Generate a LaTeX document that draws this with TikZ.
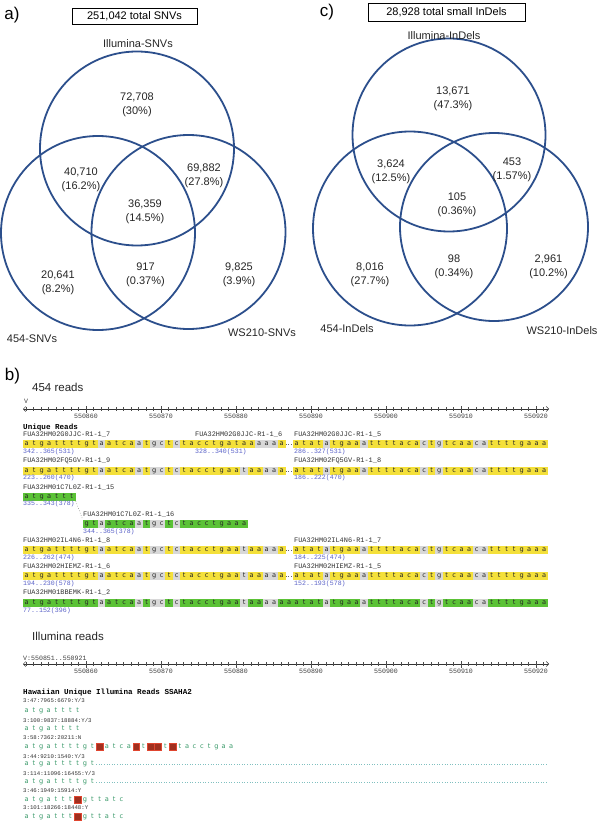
\documentclass[tikz,border=0pt]{standalone}
\usepackage{fontspec}
\setmainfont{Liberation Sans}
\newfontfamily\lmono{Liberation Mono}
\newfontfamily\dvsans{DejaVu Sans}
\usetikzlibrary{arrows.meta}
\definecolor{vblue}{HTML}{2C4F8C}
\definecolor{yel}{HTML}{F4E03A}
\definecolor{grn}{HTML}{5BC236}
\definecolor{gry}{HTML}{D8D8D8}
\definecolor{coordc}{HTML}{5A62C8}
\definecolor{ilet}{HTML}{3A9A6A}
\definecolor{idot}{HTML}{80C0C0}
\definecolor{rfill}{HTML}{A0301F}
\definecolor{redge}{HTML}{E0452F}

\makeatletter
\newcount\sr@i
\def\seqxo{23}\def\seqstep{7.5}
\newcommand\seqrow[5]{% prefix, start index, y, highlight colour, string
  \def\sr@pre{#1}\sr@i=#2\relax\def\sr@y{#3}\def\sr@col{#4}%
  \sr@loop#5\@nil}
\def\sr@loop#1{\ifx#1\@nil\else\sr@cell#1\expandafter\sr@loop\fi}
\def\sr@cell#1{%
  \pgfmathsetmacro\sr@x{\seqxo+(\the\sr@i+0.5)*\seqstep}%
  \edef\sr@name{\sr@pre-\the\sr@i}%
  \ifnum`#1=`R\relax
    \node[redsq] (\sr@name) at (\sr@x,\sr@y) {};%
  \else\ifnum`#1=`-\relax\else
    \ifnum\uccode`#1=`#1\relax\edef\sr@bg{\sr@col}\else\def\sr@bg{gry}\fi
    \lowercase{\def\sr@let{#1}}%
    \node[cell, fill=\sr@bg] (\sr@name) at (\sr@x,\sr@y) {\sr@let};%
  \fi\fi
  \advance\sr@i by 1\relax}
\makeatother

\begin{document}
\begin{tikzpicture}[x=1pt,y=-1pt,
  vc/.style={circle, draw=vblue, line width=1.8pt, inner sep=0},
  vlab/.style={align=center, font=\fontsize{11}{14}\selectfont, inner sep=0, text=black!85},
  setlab/.style={font=\fontsize{11}{13}\selectfont, inner sep=0, text=black!85},
  panel/.style={font=\fontsize{17}{20}\selectfont, inner sep=0},
  tbox/.style={draw, line width=0.9pt, inner sep=0, font=\fontsize{11}{13}\selectfont},
  sublab/.style={anchor=west, font=\fontsize{11.5}{13}\selectfont, inner sep=0, text=black!85},
  rname/.style={anchor=west, inner sep=0, font=\lmono\fontsize{6.9}{7}\selectfont, text=black!80},
  rcoord/.style={anchor=west, inner sep=0, font=\lmono\fontsize{6.6}{7}\selectfont, text=coordc},
  ilab/.style={anchor=west, inner sep=0, font=\lmono\fontsize{5.7}{6}\selectfont, text=black!80},
  hdr/.style={anchor=west, inner sep=0, font=\lmono\bfseries\fontsize{7.6}{8}\selectfont},
  rlab/.style={inner sep=0, font=\lmono\fontsize{6.6}{7}\selectfont, text=black!75},
  rline/.style={line width=0.5pt, black!80, {Straight Barb[length=2.5pt,width=5pt]}-{Straight Barb[length=2.5pt,width=5pt]}},
  tick/.style={line width=0.4pt, black!70},
  redsq/.style={inner sep=0, minimum size=6.5pt, fill=rfill, draw=redge, line width=0.8pt},
  gapline/.style={dotted, black!60, line width=0.5pt},
  idotline/.style={dotted, idot, line width=0.6pt}
]
\useasboundingbox (0,0) rectangle (600,821);
\fill[white] (0,0) rectangle (600,821);

% ---------------- panel a ----------------
\node[panel] (pa) at (12,15.5) {a)};
\node[tbox, minimum width=125pt, minimum height=16pt] (boxa) at (134.5,16.3) {251,042 total SNVs};
\node[vc, minimum size=194pt] (ca1) at (137,148.5) {};
\node[vc, minimum size=194pt] (ca2) at (98,233) {};
\node[vc, minimum size=194pt] (ca3) at (188.5,232) {};
\node[setlab] (la1) at (138,44) {Illumina-SNVs};
\node[setlab] (la2) at (32,339) {454-SNVs};
\node[setlab] (la3) at (262,333) {WS210-SNVs};
\node[vlab] (va1) at (137,105) {72,708\\(30\%)};
\node[vlab] (va2) at (81,180) {40,710\\(16.2\%)};
\node[vlab] (va3) at (204,176) {69,882\\(27.8\%)};
\node[vlab] (va4) at (145,211.5) {36,359\\(14.5\%)};
\node[vlab] (va5) at (58,282.5) {20,641\\(8.2\%)};
\node[vlab] (va6) at (145.5,275) {917\\(0.37\%)};
\node[vlab] (va7) at (239,274.5) {9,825\\(3.9\%)};

% ---------------- panel c ----------------
\node[panel] (pc) at (327,12.5) {c)};
\node[tbox, minimum width=157pt, minimum height=18pt] (boxc) at (446.5,12.5) {28,928 total small InDels};
\node[vc, minimum size=193pt] (cc1) at (449,135) {};
\node[vc, minimum size=194pt] (cc2) at (410,228.5) {};
\node[vc, minimum size=188pt] (cc3) at (494,227) {};
\node[setlab] (lc1) at (444,36) {Illumina-InDels};
\node[setlab] (lc2) at (347,329) {454-InDels};
\node[setlab] (lc3) at (562,331) {WS210-InDels};
\node[vlab] (vc1) at (453,98.5) {13,671\\(47.3\%)};
\node[vlab] (vc2) at (391,171.5) {3,624\\(12.5\%)};
\node[vlab] (vc3) at (512,169.5) {453\\(1.57\%)};
\node[vlab] (vc4) at (457,205) {105\\(0.36\%)};
\node[vlab] (vc5) at (370,275) {8,016\\(27.7\%)};
\node[vlab] (vc6) at (454,267) {98\\(0.34\%)};
\node[vlab] (vc7) at (548.5,266.5) {2,961\\(10.2\%)};

% ---------------- panel b ----------------
\node[panel] (pb) at (12.5,376.5) {b)};
\node[sublab] (t454) at (32,387) {454 reads};
\node[sublab] (till) at (32,636) {Illumina reads};

% rulers
\node[rlab, anchor=west] (rav) at (24,401) {V};
\node[rlab, anchor=west] (rbv) at (23,658) {V:550851..550921};
\foreach \ry/\pre in {409/ra,664/rb}{
  \draw[rline] (23,\ry) -- (549,\ry);
  \foreach \k in {-8,...,61}{ \draw[tick] ({86+7.5*\k},\ry-2) -- ({86+7.5*\k},\ry+2); }
  \foreach \m/\lab in {0/550860,1/550870,2/550880,3/550890,4/550900,5/550910,6/550920}{
    \draw[tick] ({86+75*\m},\ry-3) -- ({86+75*\m},\ry+4);
    \node[rlab] (\pre\m) at ({86+75*\m},\ry+7) {\lab};
  }
}

% 454 reads
\tikzset{cell/.style={inner sep=0, minimum width=7.6pt, minimum height=8pt, text height=4.2pt, text depth=1.4pt, font=\dvsans\fontsize{6.6}{7}\selectfont, text=black!85}}
\def\seqxo{23}\def\seqstep{7.5}
\node[hdr] (uhdr) at (23,428) {Unique Reads};

\node[rname] (nA1) at (23,435) {FUA32HM02G0JJC-R1-1\_7};
\node[rname] (nA2) at (195,435) {FUA32HM02G0JJC-R1-1\_6};
\node[rname] (nA3) at (294,435) {FUA32HM02G0JJC-R1-1\_5};
\seqrow{A}{0}{444}{yel}{ATGATTTTGTaATCAaTgcTcTACCTGATAAaaaA}
\seqrow{A}{36}{444}{yel}{ATATaTGAAaTTTTACAcTgTCAAcaTTTTGAAA}
\draw[gapline] (A-34.east) -- (A-36.west);
\node[rcoord] (kA1) at (23,452) {342..365(531)};
\node[rcoord] (kA2) at (195,452) {328..340(531)};
\node[rcoord] (kA3) at (294,452) {286..327(531)};

\node[rname] (nB1) at (23,461) {FUA32HM02FQ5GV-R1-1\_9};
\node[rname] (nB2) at (294,461) {FUA32HM02FQ5GV-R1-1\_8};
\seqrow{B}{0}{471}{yel}{ATGATTTTGTaATCAaTgcTcTACCTGAAtAAaaA}
\seqrow{B}{36}{471}{yel}{ATATaTGAAaTTTTACAcTgTCAAcaTTTTGAAA}
\draw[gapline] (B-34.east) -- (B-36.west);
\node[rcoord] (kB1) at (23,478) {223..260(470)};
\node[rcoord] (kB2) at (294,478) {186..222(470)};

\node[rname] (nC1) at (23,488) {FUA32HM01C7L0Z-R1-1\_15};
\seqrow{C}{0}{497}{grn}{ATGATTT}
\node[rcoord] (kC1) at (23,504) {335..343(378)};

\node[rname] (nD1) at (83,515) {FUA32HM01C7L0Z-R1-1\_16};
\seqrow{D}{8}{524}{grn}{GTaATCAaTgcTcTACCTGAAA}
\node[rcoord] (kD1) at (83,532) {344..365(378)};
\draw[gapline] (C-6.south east) -- (D-8.north west);

\node[rname] (nE1) at (23,541) {FUA32HM02IL4N6-R1-1\_8};
\node[rname] (nE2) at (294,541) {FUA32HM02IL4N6-R1-1\_7};
\seqrow{E}{0}{550}{yel}{ATGATTTTGTaATCAaTgcTcTACCTGAAtAAaaA}
\seqrow{E}{36}{550}{yel}{ATATaTGAAaTTTTACAcTgTCAAcaTTTTGAAA}
\draw[gapline] (E-34.east) -- (E-36.west);
\node[rcoord] (kE1) at (23,558) {226..262(474)};
\node[rcoord] (kE2) at (294,558) {184..225(474)};

\node[rname] (nF1) at (23,567) {FUA32HM02HIEMZ-R1-1\_6};
\node[rname] (nF2) at (294,567) {FUA32HM02HIEMZ-R1-1\_5};
\seqrow{F}{0}{576}{yel}{ATGATTTTGTaATCAaTgcTcTACCTGAAtAAaaA}
\seqrow{F}{36}{576}{yel}{ATATaTGAAaTTTTACAcTgTCAAcaTTTTGAAA}
\draw[gapline] (F-34.east) -- (F-36.west);
\node[rcoord] (kF1) at (23,584) {194..230(578)};
\node[rcoord] (kF2) at (294,584) {152..193(578)};

\node[rname] (nG1) at (23,593) {FUA32HM01BBEMK-R1-1\_2};
\seqrow{G}{0}{603}{grn}{ATGATTTTGTaATCAaTgcTcTACCTGAAtAAaaAAATATaTGAAaTTTTACAcTgTCAAcaTTTTGAAA}
\node[rcoord] (kG1) at (23,611) {77..152(396)};

% Illumina reads
\tikzset{cell/.style={inner sep=0, minimum width=7.3pt, minimum height=8pt, text height=4.2pt, text depth=1.4pt, font=\dvsans\fontsize{6.6}{7}\selectfont, text=ilet}}
\def\seqxo{23}\def\seqstep{7.3}
\node[hdr] (ihdr) at (23,693) {Hawaiian Unique Illumina Reads SSAHA2};
\node[ilab] (i1) at (23,700) {3:47:7965:6679:Y/3};
\seqrow{I1}{0}{711}{none}{ATGATTTT}
\node[ilab] (i2) at (23,720) {3:100:9837:18884:Y/3};
\seqrow{I2}{0}{729}{none}{ATGATTTT}
\node[ilab] (i3) at (23,738) {3:58:7362:20211:N};
\seqrow{I3}{0}{747}{none}{ATGATTTTGTRATCARTRRTRTACCTGAA}
\node[ilab] (i4) at (23,756) {3:44:9210:1540:Y/3};
\seqrow{I4}{0}{764}{none}{ATGATTTTGT}
\coordinate (I4end) at (548,764);
\draw[idotline] (I4-9.east) -- (I4end);
\node[ilab] (i5) at (23,773) {3:114:11096:16455:Y/3};
\seqrow{I5}{0}{782}{none}{ATGATTTTGT}
\coordinate (I5end) at (548,782);
\draw[idotline] (I5-9.east) -- (I5end);
\node[ilab] (i6) at (23,791) {3:46:1949:15914:Y};
\seqrow{I6}{0}{800}{none}{ATGATTTRGTTATC}
\node[ilab] (i7) at (23,808) {3:101:18266:18448:Y};
\seqrow{I7}{0}{817}{none}{ATGATTTRGTTATC}
\end{tikzpicture}
\end{document}
